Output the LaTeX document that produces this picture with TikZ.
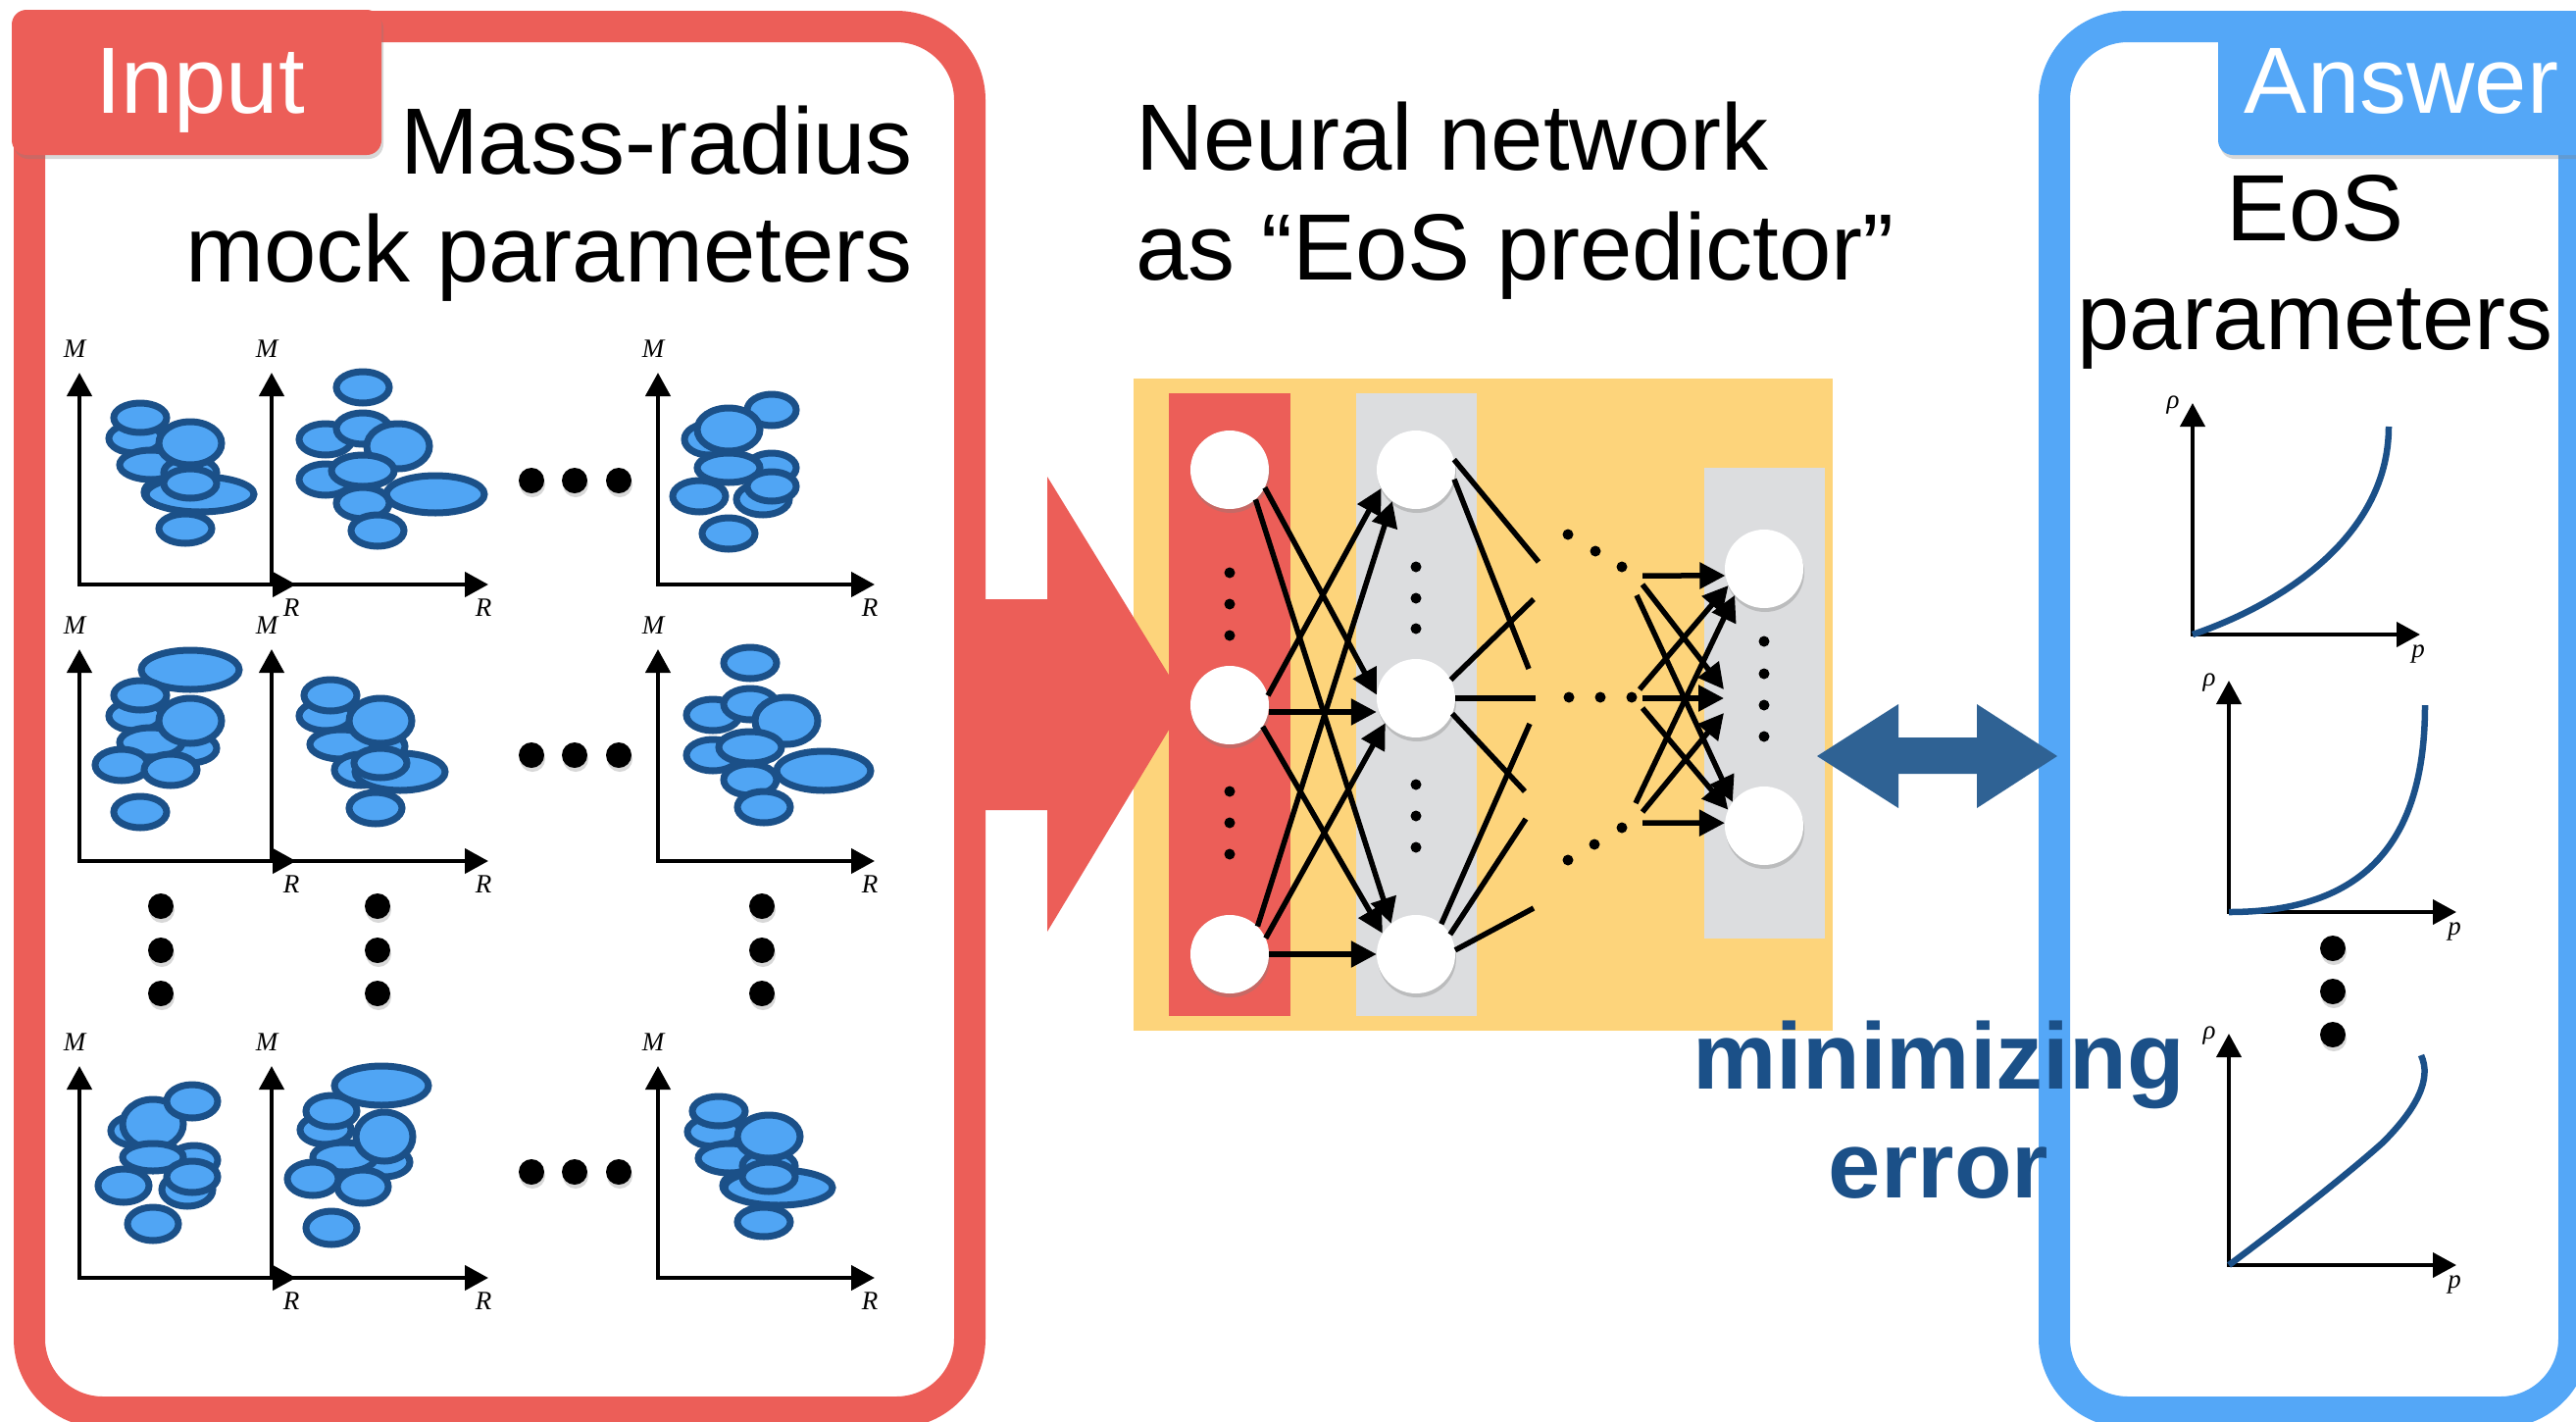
\documentclass[tikz,border=0pt]{standalone}
\usepackage{fontspec}
\setmainfont{Liberation Sans}
\newfontfamily\serifit{Liberation Serif}[ItalicFont={Liberation Serif Italic}]
\usetikzlibrary{arrows.meta,shadows}
\definecolor{inred}{RGB}{236,94,88}
\definecolor{frameblue}{RGB}{84,167,247}
\definecolor{nnyellow}{RGB}{253,212,123}
\definecolor{layergray}{RGB}{220,221,223}
\definecolor{blobfill}{RGB}{80,165,244}
\definecolor{darkblue}{RGB}{27,80,136}
\definecolor{arrowblue}{RGB}{47,98,148}
\newcommand\myblob[4]{\draw[blob] (#1,#2) ellipse [x radius=#3pt, y radius=#4pt];}
\begin{document}
\begin{tikzpicture}[x=1pt,y=-1pt,
  bigtext/.style={font={\fontsize{96}{110}\selectfont}, inner sep=0pt},
  boldtext/.style={font={\fontsize{96}{110}\selectfont\bfseries}, inner sep=0pt, text=darkblue},
  axlabel/.style={font={\serifit\itshape\fontsize{27}{27}\selectfont}, inner sep=0pt},
  blob/.style={fill=blobfill, draw=darkblue, line width=7pt},
  axis/.style={line width=4.5pt, {Triangle[length=24pt,width=25pt]}-{Triangle[length=24pt,width=25pt]}},
  neuron/.style={circle, fill=white, minimum size=80pt, inner sep=0pt,
     drop shadow={shadow xshift=1pt, shadow yshift=-4pt, opacity=0.35}},
  nnarrow/.style={line width=5.5pt, -{Triangle[length=26pt,width=26pt]}},
  nnline/.style={line width=5.5pt},
  bigdot/.style={fill=black, drop shadow={shadow xshift=1pt, shadow yshift=-4pt, opacity=0.3}},
  mraxes/.pic={
    \draw[axis] (0,-216) -- (0,0) -- (221,0);
    \node[axlabel] (-M) at (-5,-240) {M};
    \node[axlabel] (-R) at (216,24) {R};
  },
  eosaxes/.pic={
    \draw[axis, line width=4pt] (0,-236) -- (0,0) -- (232,0);
    \node[axlabel] (-rho) at (-20,-234) {ρ};
    \node[axlabel] (-p) at (230,20) {p};
  }
]
\useasboundingbox (0,0) rectangle (2627,1449);
\fill[white] (0,0) rectangle (2627,1449);

% ---------- frames ----------
\draw[line width=32pt, inred, rounded corners=75pt] (30,27) rectangle (989,1440);
\draw[line width=32pt, frameblue, rounded corners=75pt] (2095,27) rectangle (2625,1440);

% ---------- tabs ----------
\path[fill=inred, rounded corners=15pt, drop shadow={shadow xshift=2pt, shadow yshift=-4pt, opacity=0.3}] (12,10) rectangle (389,158);
\node[bigtext, anchor=base, text=white] (input) at (204,115) {Input};
\path[fill=frameblue, rounded corners=15pt, drop shadow={shadow xshift=2pt, shadow yshift=-4pt, opacity=0.3}] (2262,11) rectangle (2690,158);
\node[bigtext, anchor=base, text=white] (answer) at (2449,115) {Answer};

% ---------- titles ----------
\node[bigtext, anchor=base east] (mr1) at (931,177) {Mass-radius};
\node[bigtext, anchor=base east] (mr2) at (931,287) {mock parameters};
\node[bigtext, anchor=base west] (nn1) at (1158,173) {Neural network};
\node[bigtext, anchor=base west] (nn2) at (1158,285) {as “EoS predictor”};
\node[bigtext, anchor=base] (eos1) at (2361,245) {EoS};
\node[bigtext, anchor=base] (eos2) at (2361,356) {parameters};

% ---------- M-R plots ----------
\pic (p11) at (81,596) {mraxes};
\pic (p12) at (277,596) {mraxes};
\pic (p13) at (671,596) {mraxes};
\pic (p21) at (81,878) {mraxes};
\pic (p22) at (277,878) {mraxes};
\pic (p23) at (671,878) {mraxes};
\pic (p31) at (81,1303) {mraxes};
\pic (p32) at (277,1303) {mraxes};
\pic (p33) at (671,1303) {mraxes};

% pattern A (row1 col1) and its copy (row3 col3)
\foreach \sx/\sy in {0/0, 590/707}{
\begin{scope}[shift={(\sx,\sy)}]
\myblob{138}{447}{27}{15}
\myblob{143}{426}{27}{15}
\myblob{154}{474}{32}{15}
\myblob{194}{482}{27}{15}
\myblob{174}{502}{27}{15}
\myblob{204}{504}{55}{18}
\myblob{194}{493}{27}{15}
\myblob{194}{452}{32}{22}
\myblob{189}{539}{27}{15}
\end{scope}}
% row1 col2
\myblob{370}{395}{27}{16}
\myblob{332}{448}{27}{16}
\myblob{370}{437}{27}{16}
\myblob{406}{455}{32}{23}
\myblob{332}{489}{27}{16}
\myblob{370}{480}{32}{16}
\myblob{444}{504}{50}{19}
\myblob{370}{513}{27}{16}
\myblob{385}{541}{27}{16}
% row1 col3
\myblob{787}{418}{25}{16}
\myblob{723}{448}{25}{16}
\myblob{743}{438}{32}{22}
\myblob{787}{477}{25}{15}
\myblob{743}{477}{32}{15}
\myblob{713}{506}{27}{16}
\myblob{778}{509}{27}{16}
\myblob{787}{496}{25}{15}
\myblob{743}{544}{27}{16}
% row2 col1
\myblob{194}{683}{50}{20}
\myblob{138}{730}{27}{15}
\myblob{143}{709}{27}{15}
\myblob{194}{763}{27}{15}
\myblob{154}{757}{32}{15}
\myblob{194}{735}{32}{23}
\myblob{124}{780}{27}{16}
\myblob{174}{785}{27}{16}
\myblob{143}{828}{27}{16}
% row2 col2
\myblob{332}{730}{27}{15}
\myblob{337}{709}{27}{16}
\myblob{386}{761}{27}{15}
\myblob{348}{759}{32}{15}
\myblob{388}{735}{32}{23}
\myblob{368}{785}{27}{16}
\myblob{408}{787}{46}{19}
\myblob{388}{778}{27}{15}
\myblob{383}{824}{27}{16}
% row2 col3
\myblob{765}{676}{27}{16}
\myblob{727}{729}{27}{16}
\myblob{765}{718}{27}{16}
\myblob{802}{735}{32}{24}
\myblob{727}{770}{27}{16}
\myblob{765}{762}{32}{16}
\myblob{840}{786}{48}{20}
\myblob{765}{795}{27}{16}
\myblob{779}{823}{27}{16}
% row3 col1
\myblob{137}{1153}{24}{15}
\myblob{156}{1146}{31}{25}
\myblob{198}{1183}{24}{15}
\myblob{156}{1180}{31}{14}
\myblob{191}{1213}{26}{17}
\myblob{196}{1200}{26}{16}
\myblob{126}{1209}{26}{17}
\myblob{196}{1123}{26}{17}
\myblob{156}{1248}{26}{17}
% row3 col2
\myblob{332}{1152}{26}{15}
\myblob{338}{1133}{26}{16}
\myblob{392}{1185}{26}{15}
\myblob{351}{1180}{32}{15}
\myblob{392}{1159}{29}{25}
\myblob{319}{1202}{26}{17}
\myblob{370}{1210}{26}{17}
\myblob{389}{1107}{48}{20}
\myblob{338}{1252}{26}{17}

% ellipsis dots in input panel
\foreach \yy in {490,770,1195}{
  \foreach \xx in {542,586,631}{\fill[bigdot] (\xx,\yy) circle (13pt);}}
\foreach \xx in {164,385,777}{
  \foreach \yy in {924,969,1013}{\fill[bigdot] (\xx,\yy) circle (13pt);}}

% ---------- neural network ----------
\fill[nnyellow] (1156,386) rectangle (1869,1051);
\fill[inred] (1192,401) rectangle (1316,1036);
\fill[layergray] (1383,401) rectangle (1506,1036);
\fill[layergray] (1738,477) rectangle (1861,957);

% big input arrow
\fill[inred] (995,611) -- (1068,611) -- (1068,486) -- (1209,716) -- (1068,950) -- (1068,826) -- (995,826) -- cycle;

\node[neuron] (a1) at (1254,479) {};
\node[neuron] (a2) at (1254,719) {};
\node[neuron] (a3) at (1254,973) {};
\node[neuron] (b1) at (1444,479) {};
\node[neuron] (b2) at (1444,712) {};
\node[neuron] (b3) at (1444,973) {};
\node[neuron] (c1) at (1799,580) {};
\node[neuron] (c2) at (1799,842) {};

% layer dots
\foreach \yy in {584,616,648,807,839,871}{\fill (1254,\yy) circle (5.5pt);}
\foreach \yy in {578,610,641,800,832,864}{\fill (1444,\yy) circle (5.5pt);}
\foreach \yy in {654,687,719,751}{\fill (1799,\yy) circle (5.5pt);}
\foreach \xx/\yy in {1599/545,1627/562,1654/578,1600/711,1632/711,1664/711,1599/877,1626/861,1654/844}{\fill (\xx,\yy) circle (5.5pt);}

% input layer -> hidden layer
\draw[nnarrow] (a1.-27) -- (b2.175);
\draw[nnarrow] (a1.-49) -- (b3.129);
\draw[nnarrow] (a2.14) -- (b1.208);
\draw[nnarrow] (a2.-10) -- (b2.west |- a2.-10);
\draw[nnarrow] (a2.-33) -- (b3.148);
\draw[nnarrow] (a3.45) -- (b1.233);
\draw[nnarrow] (a3.24) -- (b2.219);
\draw[nnarrow] (a3.east) -- (b3.west);

% hidden layer -> (more layers)
\coordinate (o11) at (1569,573);
\coordinate (o12) at (1559,682);
\coordinate (o21) at (1564,611);
\coordinate (o22) at (1566,712);
\coordinate (o23) at (1555,807);
\coordinate (o31) at (1560,738);
\coordinate (o32) at (1556,835);
\coordinate (o33) at (1564,926);
\draw[nnline] (b1.15) -- (o11);
\draw[nnline] (b1.-14) -- (o12);
\draw[nnline] (b2.28) -- (o21);
\draw[nnline] (b2.east) -- (o22);
\draw[nnline] (b2.-23) -- (o23);
\draw[nnline] (b3.50) -- (o31);
\draw[nnline] (b3.30) -- (o32);
\draw[nnline] (b3.6) -- (o33);

% (more layers) -> output layer
\coordinate (s11) at (1675,587);
\coordinate (s12) at (1675,596);
\coordinate (s13) at (1669,607);
\coordinate (s21) at (1672,703);
\coordinate (s22) at (1675,712);
\coordinate (s23) at (1675,722);
\coordinate (s31) at (1668,819);
\coordinate (s32) at (1675,828);
\coordinate (s33) at (1675,839);
\coordinate (t1) at (1758,703);
\coordinate (t2) at (1758,712);
\coordinate (t3) at (1758,727);
\draw[nnarrow] (s11) -- (c1.190);
\draw[nnarrow] (s12) -- (t1);
\draw[nnarrow] (s13) -- (c2.143);
\draw[nnarrow] (s21) -- (c1.205);
\draw[nnarrow] (s22) -- (t2);
\draw[nnarrow] (s23) -- (c2.156);
\draw[nnarrow] (s31) -- (c1.222);
\draw[nnarrow] (s32) -- (t3);
\draw[nnarrow] (s33) -- (c2.176);

% ---------- EoS plots ----------
\pic (e1) at (2236,647) {eosaxes};
\pic (e2) at (2273,930) {eosaxes};
\pic (e3) at (2273,1290) {eosaxes};
\draw[darkblue, line width=6.5pt] (2236,647) .. controls (2330,615) and (2436,545) .. (2436,435);
\draw[darkblue, line width=6.5pt] (2273,930) .. controls (2410,930) and (2473,860) .. (2473,719);
\draw[darkblue, line width=6.5pt] (2273,1290) .. controls (2340,1240) and (2400,1192) .. (2430,1165) .. controls (2465,1130) and (2480,1100) .. (2469,1076);
\foreach \yy in {967,1011,1055}{\fill[bigdot] (2379,\yy) circle (13pt);}

% ---------- comparison arrow ----------
\fill[arrowblue] (1853,771) -- (1936,718) -- (1936,752) -- (2016,752) -- (2016,718) -- (2098,771) -- (2016,824) -- (2016,789) -- (1936,789) -- (1936,824) -- cycle;
\node[boldtext, anchor=base] (min1) at (1977,1110) {minimizing};
\node[boldtext, anchor=base] (min2) at (1977,1221) {error};
\end{tikzpicture}
\end{document}
